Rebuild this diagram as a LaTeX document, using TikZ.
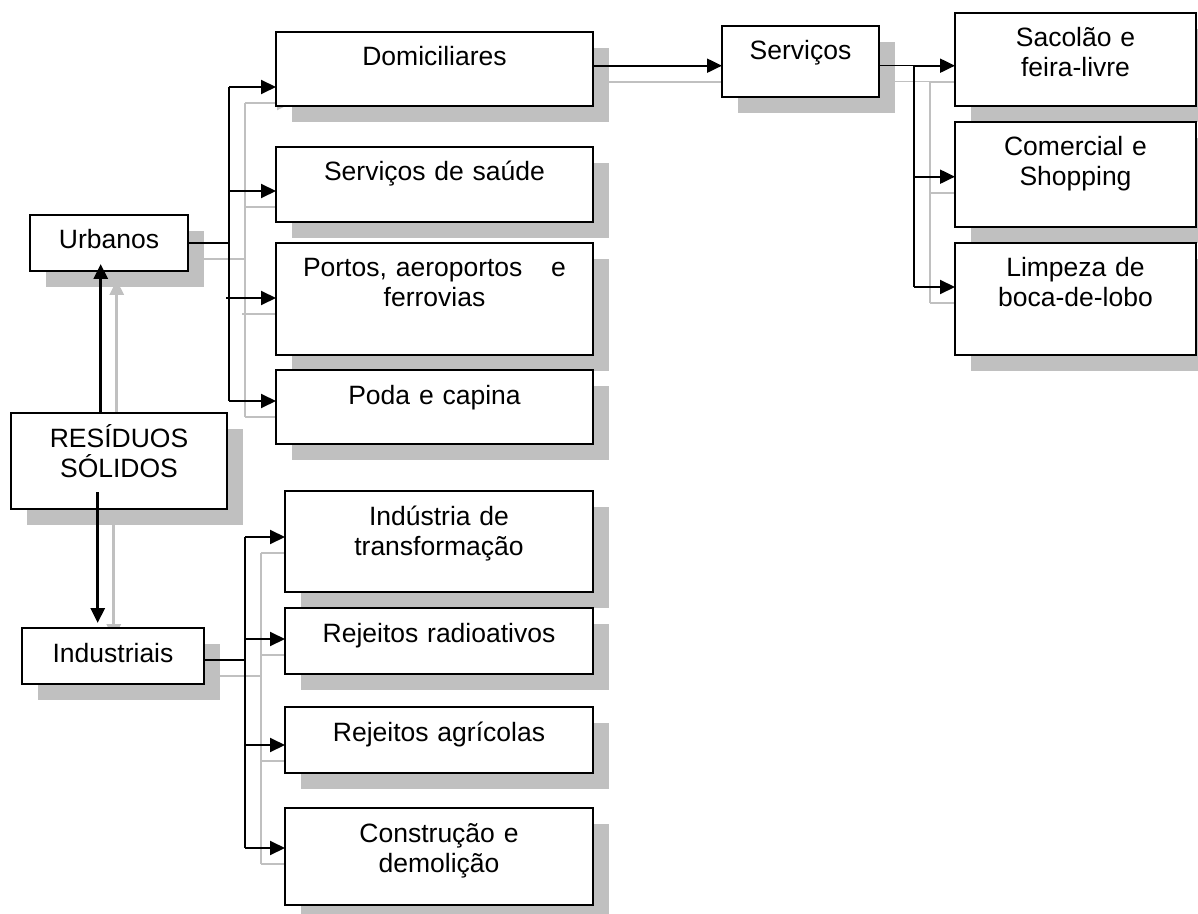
\documentclass[tikz,border=0pt]{standalone}
\usepackage{fontspec}
\setmainfont{Liberation Sans}
\usetikzlibrary{arrows.meta,shadows}
\definecolor{sombra}{HTML}{C0C0C0}
\pgfdeclarelayer{fundo}
\pgfsetlayers{fundo,main}
\tikzset{%
    >={Triangle[length=7.5pt,width=7pt]},
    caixa/.style={draw, line width=0.65pt, fill=white, align=center,
      inner sep=0pt, outer sep=0pt, text height=17pt, anchor=north west,
      font=\fontsize{13.25pt}{15pt}\selectfont,
      drop shadow={shadow xshift=8pt, shadow yshift=-8pt, fill=sombra, opacity=1}},
    fio/.style={line width=0.6pt},
    seta/.style={->, line width=1pt},
    seta grossa/.style={->, line width=1.5pt}
}
\newcommand{\ligacoes}{%
  \draw[seta grossa, shorten >=-3.5pt] ([xshift=-9.15pt]res.north) -- ([xshift=-9.15pt]res.north |- urb.south);
  \draw[seta grossa, shorten >=2.5pt] ([xshift=-10.65pt,yshift=8.5pt]res.south) -- ([xshift=-10.65pt]res.south |- ind.north);
  \draw[fio] (urb.east) -- (ut);
  \draw[fio] ([yshift=-9pt]dom.west -| ut) -- ([yshift=3pt]pod.west -| ut);
  \draw[seta] ([yshift=-9pt]dom.west -| ut) -- ([yshift=-9pt]dom.west);
  \draw[seta] ([yshift=-3.25pt]sau.west -| ut) -- ([yshift=-3.25pt]sau.west);
  \draw[seta] ([xshift=-1.5pt,yshift=0.5pt]por.west -| ut) -- ([yshift=0.5pt]por.west);
  \draw[seta] ([yshift=3pt]pod.west -| ut) -- ([yshift=3pt]pod.west);
  \draw[fio] ([yshift=-2pt]ind.east) -- (it);
  \draw[fio] ([yshift=2.25pt]tra.west -| it) -- ([yshift=4.25pt]con.west -| it);
  \draw[seta] ([yshift=2.25pt]tra.west -| it) -- ([yshift=2.25pt]tra.west);
  \draw[seta] ([yshift=1pt]rad.west -| it) -- ([yshift=1pt]rad.west);
  \draw[seta] ([yshift=-2.5pt]agr.west -| it) -- ([yshift=-2.5pt]agr.west);
  \draw[seta] ([yshift=4.25pt]con.west -| it) -- ([yshift=4.25pt]con.west);
  \draw[seta] (ds) -- (ds -| ser.west);
  \draw[fio] (ds -| ser.east) -- (st);
  \draw[fio] (st) -- ([yshift=6pt]lim.west -| st);
  \draw[seta] (st) -- (st -| sac.west);
  \draw[seta] ([yshift=-1.1pt]com.west -| st) -- ([yshift=-1.1pt]com.west);
  \draw[seta] ([yshift=6pt]lim.west -| st) -- ([yshift=6pt]lim.west);
}

\begin{document}
\begin{tikzpicture}[x=0.5pt, y=-0.5pt]
  \useasboundingbox (0,0) rectangle (1198,914);

  \node[caixa, text width=79pt, text depth=11pt] (urb) at (30,215) {Urbanos};
  \node[caixa, text width=108pt, text depth=31pt] (res) at (11,413) {RESÍDUOS\\SÓLIDOS};
  \node[caixa, text width=91pt, text depth=11pt] (ind) at (22,628) {Industriais};

  \node[caixa, text width=158.5pt, text depth=20pt] (dom) at (276,32) {Domiciliares};
  \node[caixa, text width=158.5pt, text depth=20.5pt] (sau) at (276,147) {Serviços de saúde};
  \node[caixa, text width=158.5pt, text depth=39pt] (por) at (276,243) {\makebox[131.5pt]{Portos, aeroportos\hfill e}\\ferrovias};
  \node[caixa, text width=158.5pt, text depth=20pt] (pod) at (276,370) {Poda e capina};

  \node[caixa, text width=154pt, text depth=33.5pt] (tra) at (285,491) {Indústria de\\transformação};
  \node[caixa, text width=154pt, text depth=16pt] (rad) at (285,608) {Rejeitos radioativos};
  \node[caixa, text width=154pt, text depth=16pt] (agr) at (285,707) {Rejeitos agrícolas};
  \node[caixa, text width=154pt, text depth=31.5pt] (con) at (285,808) {Construção e\\demolição};

  \node[caixa, text width=78.5pt, text depth=18.5pt] (ser) at (722,26) {Serviços};
  \node[caixa, text width=120.5pt, text depth=29.5pt] (sac) at (955,13) {Sacolão e\\feira-livre};
  \node[caixa, text width=120.5pt, text depth=35.5pt] (com) at (955,122) {Comercial e\\Shopping};
  \node[caixa, text width=120.5pt, text depth=39pt] (lim) at (955,243) {Limpeza de\\boca-de-lobo};

  \coordinate (ut) at ([xshift=20.5pt]urb.east);
  \coordinate (it) at ([xshift=20.5pt,yshift=-2pt]ind.east);
  \coordinate (ds) at ([yshift=1.65pt]dom.east);
  \coordinate (st) at ([xshift=17.5pt]ser.east |- ds);

  \begin{pgfonlayer}{fundo}
    \fill[white] (0,0) rectangle (1198,914);
    \begin{scope}[color=sombra, transform canvas={shift={(8pt,-8pt)}}]
      \ligacoes
    \end{scope}
  \end{pgfonlayer}
  \ligacoes
\end{tikzpicture}
\end{document}
